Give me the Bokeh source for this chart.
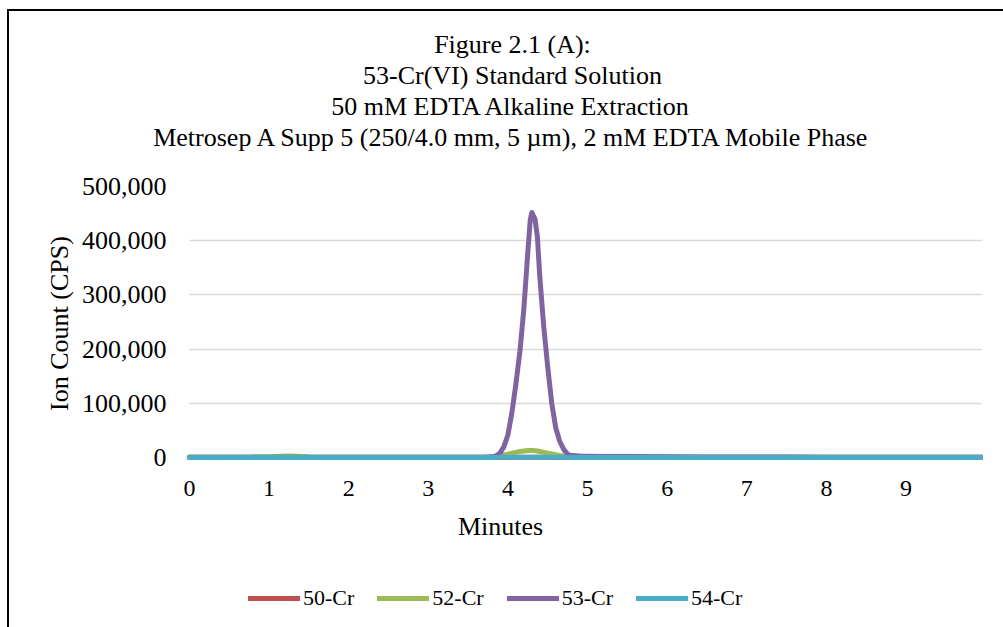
from bokeh.plotting import figure
from bokeh.models import (Range1d, FixedTicker, NumeralTickFormatter, Title,
                          Legend, LegendItem, Label, BoxAnnotation)
from bokeh.embed import file_html
from bokeh.resources import INLINE

# Retention time (minutes)
minutes = [0.0, 0.25, 0.5, 0.75, 1.0, 1.15, 1.25, 1.35, 1.5, 1.75,
           2.0, 2.5, 3.0, 3.5, 3.7, 3.8, 3.85, 3.9, 3.95, 4.0,
           4.05, 4.1, 4.15, 4.2, 4.25, 4.28, 4.3, 4.32, 4.34, 4.37,
           4.4, 4.45, 4.5, 4.55, 4.6, 4.65, 4.7, 4.75, 4.8, 4.9,
           5.0, 5.2, 5.5, 6.0, 6.5, 7.0, 7.5, 8.0, 8.5, 9.0,
           9.5, 9.96]

# Ion counts (CPS) for each chromium isotope
cr50 = [150, 150, 140, 150, 160, 170, 180, 170, 160, 150,
        150, 140, 150, 150, 150, 160, 170, 180, 200, 220,
        240, 260, 280, 300, 310, 320, 320, 320, 310, 300,
        290, 270, 250, 230, 210, 200, 190, 180, 170, 160,
        160, 150, 150, 150, 150, 140, 140, 140, 140, 140,
        140, 140]

cr52 = [1000, 1000, 1000, 1100, 1400, 2200, 3000, 2400, 1500, 1100,
        1000, 1000, 1000, 1000, 1000, 1500, 2000, 3000, 4500, 6000,
        8000, 9500, 11000, 12000, 12800, 13000, 13000, 12800, 12500, 12000,
        11000, 9500, 8000, 6500, 5000, 3800, 2800, 2000, 1600, 1300,
        1100, 1000, 1000, 1000, 1000, 1000, 1000, 1000, 1000, 1000,
        1000, 1000]

cr53 = [400, 400, 380, 400, 420, 450, 500, 470, 420, 400,
        390, 380, 400, 420, 500, 1200, 3000, 8000, 20000, 42000,
        83000, 136000, 195000, 275000, 380000, 438000, 452000, 446000, 440000, 407000,
        333000, 241000, 166000, 100000, 55000, 30000, 15000, 6000, 3500, 2600,
        2200, 1900, 1700, 1400, 1000, 800, 700, 600, 550, 500,
        450, 400]

cr54 = [200, 200, 190, 200, 210, 220, 230, 220, 210, 200,
        200, 190, 200, 200, 200, 210, 220, 240, 260, 280,
        300, 320, 340, 360, 370, 380, 380, 380, 370, 360,
        350, 330, 310, 290, 270, 250, 240, 230, 220, 210,
        210, 200, 200, 200, 200, 190, 190, 190, 190, 190,
        190, 190]

series_names = ["50-Cr", "52-Cr", "53-Cr", "54-Cr"]
series_values = [cr50, cr52, cr53, cr54]
series_colors = ["#C0504D", "#9BBB59", "#8064A2", "#4BACC6"]

x_ticks = [0, 1, 2, 3, 4, 5, 6, 7, 8, 9]
y_ticks = [0, 100000, 200000, 300000, 400000, 500000]

title_lines = [
    "Figure 2.1 (A):",
    "53-Cr(VI) Standard Solution",
    "50 mM EDTA Alkaline Extraction",
    "Metrosep A Supp 5 (250/4.0 mm, 5 \u00b5m), 2 mM EDTA Mobile Phase",
]
x_title = "Minutes"
y_title = "Ion Count (CPS)"

FONT = "Liberation Serif"
TITLE_SIZE = 26
AXIS_TITLE_SIZE = 26

# Times/Liberation Serif advance widths (em), used to centre text in side panels
_ADV = {" ": .25, "(": .333, ")": .333, ",": .25, "-": .333, ".": .25, "/": .278,
        ":": .278, "A": .722, "C": .667, "D": .722, "E": .611, "F": .556, "I": .333,
        "M": .889, "P": .556, "S": .556, "T": .611, "V": .722, "a": .444, "b": .5,
        "c": .444, "d": .5, "e": .444, "g": .5, "h": .5, "i": .278, "k": .5, "l": .278,
        "m": .778, "n": .5, "o": .5, "p": .5, "r": .333, "s": .389, "t": .278, "u": .5,
        "x": .5, "y": .5, "\u00b5": .5}


def text_width(s, size):
    return sum(_ADV.get(ch, .5) for ch in s) * size


# page geometry (pixels)
W, H = 1003, 627
X0_PX, RIGHT, TOP = 189, 982, 186    # pixel column of 0 min, frame right, frame top
ZERO_Y = 457                         # pixel row of the 0 CPS gridline
Y_LABEL_RIGHT = 166                  # right edge of the y tick labels
X_END = 9.96
X_PAD = 0.1                          # room left of 0 min for the first tick label
TITLE_CENTER = 512
Y_TITLE_CENTER = 323
X_TITLE_CENTER = 500

px_per_min = (RIGHT - X0_PX) / X_END
LEFT = round(X0_PX - X_PAD * px_per_min)   # frame left edge

# y scale: 500,000 CPS spans TOP..ZERO_Y; frame runs on to the page bottom
y_per_px = 500000 / (ZERO_Y - TOP)
y_start = -(H - ZERO_Y) * y_per_px

p = figure(width=W, height=H, output_backend="svg", toolbar_location=None,
           x_range=Range1d(-X_PAD, X_END), y_range=Range1d(y_start, 500000),
           min_border_left=LEFT, min_border_right=W - RIGHT,
           min_border_top=TOP, min_border_bottom=0)
p.outline_line_color = None
p.background_fill_alpha = 0
p.border_fill_alpha = 0
# white chart area with black left/top edges
p.styles = {
    "background-color": "white",
    "background-image": "linear-gradient(black, black), linear-gradient(black, black)",
    "background-size": "2px 100%, 100% 2px",
    "background-position": "7px 9px, 7px 9px",
    "background-repeat": "no-repeat",
}

# axes
p.xaxis.fixed_location = 0
p.xaxis.ticker = FixedTicker(ticks=x_ticks)
p.yaxis.ticker = FixedTicker(ticks=y_ticks)
p.yaxis.formatter = NumeralTickFormatter(format="0,0")
for ax in (p.xaxis, p.yaxis):
    ax.axis_line_color = None
    ax.major_tick_line_color = None
    ax.minor_tick_line_color = None
    ax.major_tick_out = 0
    ax.major_tick_in = 0
    ax.major_label_text_font = FONT
    ax.major_label_text_color = "black"
p.xaxis.major_label_text_font_size = "24px"
p.yaxis.major_label_text_font_size = "26px"
p.xaxis.major_label_standoff = 23
p.yaxis.major_label_standoff = LEFT - Y_LABEL_RIGHT

p.xgrid.grid_line_color = None
p.ygrid.grid_line_color = "#D9D9D9"
p.ygrid.grid_line_width = 1.5

# keep the plot area (gridlines, traces) starting at 0 min
p.add_layout(BoxAnnotation(right=0, fill_color="white", fill_alpha=1,
                           line_color=None, level="underlay"))

# data lines
renderers = []
for name, vals, col in zip(series_names, series_values, series_colors):
    r = p.line(minutes, vals, line_color=col, line_width=5,
               line_join="round", line_cap="round")
    renderers.append(r)

legend = Legend(items=[LegendItem(label=n, renderers=[r]) for n, r in zip(series_names, renderers)],
                orientation="horizontal", location=(248 - LEFT, 16),
                glyph_width=52, glyph_height=20, label_standoff=3, spacing=23,
                padding=0, margin=0, border_line_color=None,
                background_fill_alpha=0,
                label_text_font=FONT, label_text_font_size="22px",
                label_text_color="black")
p.add_layout(legend, "center")

# x axis title
p.add_layout(Label(x=X_TITLE_CENTER - LEFT, y=H - 526, x_units="screen", y_units="screen",
                   text=x_title, text_align="center", text_baseline="alphabetic",
                   text_font=FONT, text_font_size=f"{AXIS_TITLE_SIZE}px", text_color="black"))

# y axis title, placed in the left panel beside the tick labels
y_off = H - (Y_TITLE_CENTER + text_width(y_title, AXIS_TITLE_SIZE) / 2)
p.add_layout(Title(text=y_title, align="left", offset=y_off, standoff=10,
                   text_font=FONT, text_font_size=f"{AXIS_TITLE_SIZE}px",
                   text_font_style="normal", text_color="black"), "left")

# chart title: a spacer, then four lines stacked upward, each centred on the chart
p.add_layout(Title(text=" ", text_font=FONT, text_font_size="26px", standoff=4), "above")
for txt in reversed(title_lines):
    off = TITLE_CENTER - text_width(txt, TITLE_SIZE) / 2 - LEFT
    p.add_layout(Title(text=txt, align="left", offset=off, standoff=0,
                       text_font=FONT, text_font_size=f"{TITLE_SIZE}px",
                       text_font_style="normal", text_color="black"), "above")

open("out.html", "w").write(file_html(p, INLINE))
